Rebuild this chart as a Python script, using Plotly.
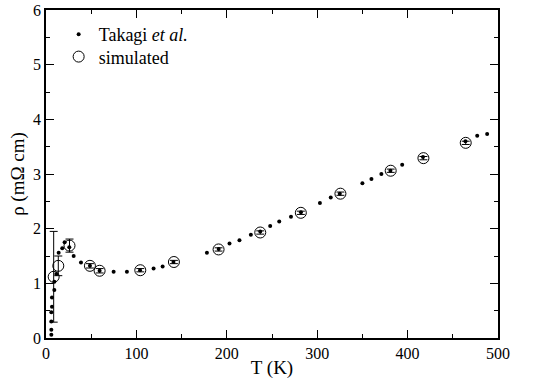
import plotly.graph_objects as go

# Takagi et al. experimental data
takagi_T = [5.9, 5.9, 5.9, 5.9, 6.6, 6.6, 9.2, 9.2, 11.4, 14, 18, 20.6, 25.8, 30.6, 38.7,
            48.6, 59.3, 74.8, 89.5, 104, 119, 129, 141, 178, 191, 203, 214, 226.6, 237,
            248, 258, 271, 282, 303, 315, 325, 350, 360, 371, 381, 394, 417, 464, 477, 488]
takagi_rho = [0.06, 0.15, 0.30, 0.47, 0.57, 0.74, 0.88, 1.03, 1.17, 1.56, 1.64, 1.75, 1.66,
              1.50, 1.38, 1.32, 1.23, 1.21, 1.21, 1.24, 1.27, 1.31, 1.39, 1.56, 1.63, 1.73,
              1.79, 1.89, 1.95, 2.05, 2.13, 2.22, 2.30, 2.47, 2.57, 2.64, 2.83, 2.91, 3.00,
              3.06, 3.17, 3.31, 3.60, 3.70, 3.73]

# Simulated data
sim_T = [8.5, 13.6, 26, 48.6, 59.3, 104.3, 141.5, 190.9, 237, 281.9, 325.7, 381.3, 417.5, 464.3]
sim_rho = [1.12, 1.32, 1.69, 1.32, 1.23, 1.24, 1.39, 1.62, 1.93, 2.29, 2.64, 3.06, 3.29, 3.57]
sim_err = [0.83, 0.18, 0.12, 0.04, 0.04, 0.03, 0.03, 0.03, 0.03, 0.03, 0.03, 0.03, 0.03, 0.03]

font = "Liberation Serif, Times New Roman, serif"

fig = go.Figure()
fig.add_trace(go.Scatter(
    x=takagi_T, y=takagi_rho, mode="markers", name="Takagi <i>et al.</i>",
    marker=dict(color="black", size=4, symbol="circle"),
    legend="legend",
))
fig.add_trace(go.Scatter(
    x=sim_T, y=sim_rho, mode="markers", name="simulated",
    marker=dict(color="black", size=11, symbol="circle-open",
                line=dict(color="black", width=1)),
    error_y=dict(type="data", array=sim_err, visible=True, color="black",
                 thickness=1, width=4),
    legend="legend2",
))

axis_common = dict(
    showline=True, linecolor="black", linewidth=1.5, mirror="ticks",
    ticks="inside", ticklen=8, tickwidth=1, tickcolor="black",
    showgrid=False, zeroline=False, automargin=False,
    ticklabeloverflow="allow",
    tickfont=dict(family=font, size=16, color="black"),
)
fig.update_xaxes(range=[0, 500], dtick=100, tick0=0,
                 minor=dict(ticks="inside", ticklen=4, dtick=50, tickcolor="black", showgrid=False),
                 title=dict(text="T (K)", font=dict(family=font, size=19, color="black"), standoff=0),
                 **axis_common)
fig.update_yaxes(range=[0, 6], dtick=1, tick0=0,
                 minor=dict(ticks="inside", ticklen=4, dtick=0.5, tickcolor="black", showgrid=False),
                 title=dict(text="ρ (mΩ cm)", font=dict(family=font, size=19, color="black"), standoff=3),
                 **axis_common)

leg_common = dict(xanchor="left", yanchor="middle",
                  font=dict(family=font, size=18, color="black"),
                  bgcolor="rgba(0,0,0,0)", itemwidth=30)
fig.update_layout(
    width=546, height=383,
    margin=dict(l=46, r=48, t=10, b=45),
    plot_bgcolor="white", paper_bgcolor="white",
    showlegend=True,
    legend=dict(x=0.028, y=0.925, **leg_common),
    legend2=dict(x=0.028, y=0.857, **leg_common),
    font=dict(family=font, color="black"),
)

fig.write_html("out.html", post_script="document.body.style.margin='0';",
               config={"displayModeBar": False})
